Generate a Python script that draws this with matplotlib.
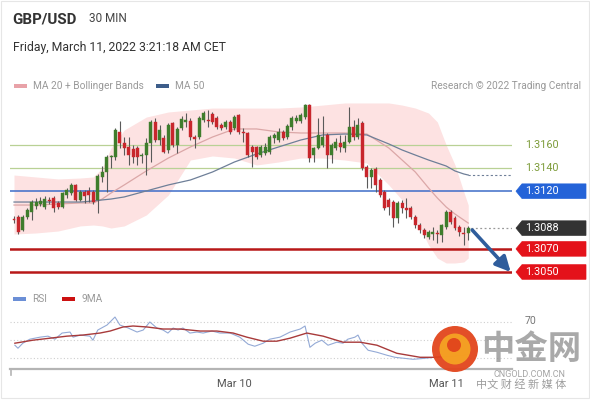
import matplotlib
matplotlib.use("Agg")
import matplotlib.pyplot as plt
from matplotlib.patches import Polygon, Rectangle, Circle
import numpy as np

plt.rcParams['font.family'] = ['Roboto', 'DejaVu Sans']

# ---------------- data ----------------
opens = [1.30959, 1.30976, 1.30864, 1.30976, 1.31020, 1.31072, 1.31089, 1.31063, 1.31124, 1.31141,
         1.31098, 1.31063, 1.31167, 1.31184, 1.31254, 1.31124, 1.31193, 1.31202, 1.31193, 1.31124,
         1.31323, 1.31366, 1.31496, 1.31496, 1.31713, 1.31617, 1.31583, 1.31565, 1.31574, 1.31505,
         1.31513, 1.31617, 1.31799, 1.31643, 1.31661, 1.31557, 1.31791, 1.31600, 1.31747, 1.31799,
         1.31808, 1.31669, 1.31669, 1.31816, 1.31816, 1.31868, 1.31834, 1.31773, 1.31756, 1.31799,
         1.31747, 1.31860, 1.31713, 1.31704, 1.31583, 1.31583, 1.31513, 1.31531, 1.31539, 1.31661,
         1.31643, 1.31713, 1.31669, 1.31756, 1.31808, 1.31808, 1.31842, 1.31946, 1.31513, 1.31574,
         1.31600, 1.31687, 1.31513, 1.31574, 1.31617, 1.31574, 1.31626, 1.31756, 1.31669, 1.31791,
         1.31409, 1.31323, 1.31392, 1.31297, 1.31193, 1.31124, 1.31106, 1.30968, 1.31098, 1.31054,
         1.31054, 1.30976, 1.30907, 1.30864, 1.30803, 1.30829, 1.30838, 1.30821, 1.30890, 1.31020,
         1.30968, 1.30890, 1.30838, 1.30838]
closes = [1.30950, 1.30847, 1.30976, 1.31037, 1.31106, 1.31106, 1.31115, 1.31132, 1.31115, 1.31054,
          1.31063, 1.31184, 1.31210, 1.31254, 1.31124, 1.31193, 1.31158, 1.31167, 1.31106, 1.31332,
          1.31366, 1.31496, 1.31505, 1.31730, 1.31617, 1.31574, 1.31513, 1.31496, 1.31496, 1.31513,
          1.31617, 1.31799, 1.31643, 1.31730, 1.31539, 1.31773, 1.31600, 1.31739, 1.31825, 1.31816,
          1.31669, 1.31652, 1.31834, 1.31877, 1.31812, 1.31799, 1.31756, 1.31747, 1.31799, 1.31713,
          1.31842, 1.31713, 1.31704, 1.31513, 1.31539, 1.31496, 1.31583, 1.31583, 1.31669, 1.31687,
          1.31713, 1.31661, 1.31765, 1.31834, 1.31834, 1.31860, 1.31946, 1.31487, 1.31574, 1.31687,
          1.31669, 1.31513, 1.31600, 1.31626, 1.31583, 1.31626, 1.31756, 1.31669, 1.31773, 1.31401,
          1.31323, 1.31383, 1.31254, 1.31167, 1.31054, 1.31063, 1.30968, 1.31098, 1.31054, 1.31037,
          1.30976, 1.30907, 1.30864, 1.30821, 1.30847, 1.30847, 1.30829, 1.30907, 1.31020, 1.30933,
          1.30881, 1.30847, 1.30829, 1.30881]
highs = [1.30985, 1.30994, 1.30994, 1.31054, 1.31124, 1.31141, 1.31150, 1.31158, 1.31150, 1.31158,
         1.31115, 1.31193, 1.31228, 1.31271, 1.31262, 1.31210, 1.31210, 1.31236, 1.31210, 1.31349,
         1.31418, 1.31513, 1.31513, 1.31747, 1.31808, 1.31669, 1.31669, 1.31600, 1.31591, 1.31531,
         1.31661, 1.31816, 1.31834, 1.31773, 1.31687, 1.31791, 1.31799, 1.31756, 1.31851, 1.31877,
         1.31834, 1.31687, 1.31851, 1.31894, 1.31903, 1.31886, 1.31851, 1.31791, 1.31816, 1.31816,
         1.31860, 1.31868, 1.31747, 1.31713, 1.31600, 1.31591, 1.31600, 1.31617, 1.31687, 1.31704,
         1.31747, 1.31730, 1.31782, 1.31851, 1.31860, 1.31877, 1.31955, 1.31955, 1.31583, 1.31834,
         1.31851, 1.31704, 1.31617, 1.31661, 1.31687, 1.31687, 1.31929, 1.31816, 1.31834, 1.31808,
         1.31427, 1.31401, 1.31409, 1.31314, 1.31210, 1.31141, 1.31124, 1.31115, 1.31124, 1.31141,
         1.31072, 1.30994, 1.30924, 1.30881, 1.30864, 1.30890, 1.30864, 1.30916, 1.31037, 1.31037,
         1.30985, 1.30907, 1.30890, 1.30899]
lows = [1.30924, 1.30829, 1.30855, 1.30959, 1.30950, 1.31046, 1.31072, 1.31046, 1.31089, 1.31020,
        1.31046, 1.31054, 1.31141, 1.31167, 1.31115, 1.31115, 1.31098, 1.31106, 1.31089, 1.31011,
        1.31280, 1.31193, 1.31401, 1.31470, 1.31574, 1.31513, 1.31427, 1.31444, 1.31427, 1.31444,
        1.31340, 1.31453, 1.31626, 1.31600, 1.31531, 1.31531, 1.31583, 1.31531, 1.31730, 1.31756,
        1.31643, 1.31574, 1.31652, 1.31799, 1.31756, 1.31782, 1.31739, 1.31730, 1.31739, 1.31695,
        1.31730, 1.31695, 1.31626, 1.31496, 1.31409, 1.31479, 1.31496, 1.31513, 1.31522, 1.31617,
        1.31626, 1.31643, 1.31652, 1.31730, 1.31791, 1.31791, 1.31825, 1.31453, 1.31453, 1.31565,
        1.31583, 1.31401, 1.31444, 1.31557, 1.31539, 1.31539, 1.31617, 1.31643, 1.31652, 1.31383,
        1.31228, 1.31228, 1.31193, 1.31150, 1.31037, 1.30994, 1.30890, 1.30924, 1.31011, 1.30968,
        1.30959, 1.30881, 1.30838, 1.30795, 1.30786, 1.30777, 1.30751, 1.30760, 1.30873, 1.30916,
        1.30864, 1.30812, 1.30734, 1.30777]

# indicator readings at sampled candle indices
ind_idx = [0, 5, 10, 15, 18, 20, 22, 25, 30, 35, 40, 45, 50, 55, 60, 65, 70, 75, 80, 85,
           88, 91, 94, 96, 98, 100, 102, 103]
bb_upper = [1.31340, 1.31323, 1.31306, 1.31314, 1.31323, 1.31401, 1.31574, 1.31730, 1.31842, 1.31886,
            1.31903, 1.31920, 1.31920, 1.31920, 1.31920, 1.31929, 1.31946, 1.31964, 1.31964, 1.31964,
            1.31946, 1.31920, 1.31877, 1.31799, 1.31600, 1.31427, 1.31193, 1.31080]
bb_lower = [1.30829, 1.30838, 1.30855, 1.30899, 1.30907, 1.30899, 1.30881, 1.30899, 1.30994, 1.31167,
            1.31470, 1.31505, 1.31487, 1.31427, 1.31453, 1.31487, 1.31487, 1.31470, 1.31444, 1.31254,
            1.31124, 1.30968, 1.30734, 1.30621, 1.30578, 1.30578, 1.30587, 1.30621]
ma20 = [1.31080, 1.31080, 1.31089, 1.31098, 1.31098, 1.31132, 1.31184, 1.31254, 1.31375, 1.31487,
        1.31583, 1.31669, 1.31739, 1.31739, 1.31713, 1.31704, 1.31704, 1.31704, 1.31695, 1.31574,
        1.31470, 1.31366, 1.31228, 1.31141, 1.31063, 1.31002, 1.30950, 1.30924]
ma50 = [1.31106, 1.31106, 1.31106, 1.31106, 1.31115, 1.31124, 1.31132, 1.31150, 1.31202, 1.31254,
        1.31297, 1.31366, 1.31453, 1.31522, 1.31583, 1.31643, 1.31687, 1.31695, 1.31687, 1.31609,
        1.31557, 1.31513, 1.31470, 1.31444, 1.31418, 1.31375, 1.31349, 1.31340]

rsi_idx = [0.2, 0.9, 2.0, 3.6, 5.9, 7.7, 9.3, 10.9, 12.7, 13.4, 15.0, 17.2, 17.9, 19.0, 21.1, 22.9,
           24.0, 25.9, 27.9, 29.3, 30.8, 32.4, 33.8, 34.9, 36.1, 37.2, 38.3, 39.9, 41.5, 42.9, 44.9,
           46.7, 49.0, 51.2, 53.1, 54.6, 56.5, 58.0, 60.3, 62.6, 64.9, 66.0, 67.1, 68.3, 69.8, 71.2,
           73.2, 74.6, 75.7, 77.3, 78.0, 78.9, 80.3, 82.3, 84.6, 86.4, 90.5, 93.2, 97.0, 100.0, 103.0]
rsi_val = [44.3, 41.0, 46.5, 50.9, 53.1, 54.2, 50.9, 57.6, 58.7, 53.1, 55.4, 54.2, 49.8, 60.9, 66.4, 75.1,
           66.4, 63.1, 58.7, 60.9, 69.7, 63.1, 60.9, 57.6, 63.1, 60.9, 63.1, 57.6, 58.7, 57.6, 59.8,
           57.6, 57.6, 53.1, 45.4, 43.2, 46.5, 50.9, 53.1, 58.7, 62.0, 65.3, 42.0, 46.5, 49.8, 44.3,
           47.6, 46.5, 50.9, 53.1, 55.4, 46.5, 38.8, 36.6, 33.3, 31.1, 28.9, 30.0, 32.0, 42.0, 38.0]
ma9_idx = [0.2, 4.3, 8.2, 12.0, 15.6, 19.5, 21.8, 24.7, 27.0, 30.2, 33.8, 37.6, 42.2, 46.0, 49.7,
           52.8, 56.5, 59.6, 62.6, 66.4, 70.1, 74.6, 78.5, 82.3, 86.8, 92.1, 95.0, 99.0, 103.0]
ma9_val = [46.5, 49.8, 52.0, 54.2, 55.4, 57.6, 59.8, 64.2, 65.3, 64.2, 62.0, 62.0, 59.8, 59.8, 57.6,
           53.1, 48.7, 48.7, 52.0, 57.6, 54.2, 47.6, 47.6, 44.3, 35.5, 31.1, 31.1, 32.0, 34.0]

levels_green = [1.3160, 1.3140]
level_blue = 1.3120
level_last = 1.3088
levels_red = [1.3070, 1.3050]
target = 1.3050
xlabels = {50: "Mar 10", 98: "Mar 11"}

# ---------------- layout helpers ----------------
W, H = 590, 400
fig = plt.figure(figsize=(5.9, 4.0), dpi=100)
fig.patch.set_facecolor('white')

PX0, PX1 = 10, 512          # plot x extent in pixels
X0, DX = 14, 4.41           # candle 0 position and spacing in pixels
xlim = ((PX0 - X0) / DX, (PX1 - X0) / DX)

def fx(px):
    return px / W

def fy(py):
    return 1 - py / H

# price axes: y pixel 95..280
ax = fig.add_axes([fx(PX0), fy(280), fx(PX1) - fx(PX0), fy(95) - fy(280)])
ppu = 11545.0
ax.set_ylim(1.3160 - (280 - 145) / ppu, 1.3160 + (145 - 95) / ppu)
ax.set_xlim(*xlim)
ax.axis('off')

n = len(opens)

# bollinger band + MAs
ax.fill_between(ind_idx, bb_lower, bb_upper, color='#fde2e2', lw=0, zorder=1)
ax.plot(ind_idx, ma20, color='#dba7a7', lw=0.9, zorder=2)
ax.plot(ind_idx, ma50, color='#6e7f98', lw=0.9, zorder=2)
ax.plot([ind_idx[-1], xlim[1]], [ma50[-1], ma50[-1]], color='#6e7f98', lw=0.8,
        ls=(0, (2, 2)), zorder=2)

# level lines
for lv in levels_green:
    ax.axhline(lv, color='#b9d195', lw=0.9, zorder=1.5)
ax.axhline(level_blue, color='#3d6cc8', lw=1.1, zorder=1.5)
for lv in levels_red:
    ax.axhline(lv, color='#b81818', lw=1.8, zorder=1.5)
ax.plot([n - 0.3, xlim[1]], [level_last, level_last], color='#999999', lw=0.9,
        ls=(0, (1.5, 2)), zorder=1.5)

# candles
up_c, dn_c = '#3f7d2c', '#c8262c'
for i in range(n):
    o, c, h, l = opens[i], closes[i], highs[i], lows[i]
    col = up_c if c >= o else dn_c
    ax.vlines(i, l, h, color='#5a5a5a', lw=0.8, zorder=3)
    bot, top = min(o, c), max(o, c)
    if top - bot < 0.00004:
        top = bot + 0.00004
    ax.add_patch(Rectangle((i - 0.34, bot), 0.68, top - bot, facecolor=col,
                           edgecolor=col, lw=0.3, zorder=4))

# target arrow
ax.annotate('', xy=(xlim[1] - 0.3, target), xytext=(n - 0.1, closes[-1] - 0.00017),
            arrowprops=dict(arrowstyle='-|>,head_length=0.9,head_width=0.45',
                            color='#2f5d9c', lw=2.6, shrinkA=0, shrinkB=0),
            annotation_clip=False, zorder=6)

# RSI axes: y pixel 305..369
rax = fig.add_axes([fx(PX0), fy(369), fx(PX1) - fx(PX0), fy(305) - fy(369)])
rpu = (358.3 - 321.7) / 40.0
rax.set_ylim(30 - (369 - 358.3) / rpu, 70 + (321.7 - 305) / rpu)
rax.set_xlim(*xlim)
for lv in (70, 50, 30):
    rax.axhline(lv, color='#cfcfcf', lw=0.8, ls=(0, (1, 2)), zorder=1)
rax.plot(rsi_idx, rsi_val, color='#94aad6', lw=0.8, zorder=2)
rax.plot(ma9_idx, ma9_val, color='#a83a3a', lw=1.0, zorder=3)
for s in ('top', 'right', 'left'):
    rax.spines[s].set_visible(False)
rax.spines['bottom'].set_color('#b4b4b4')
rax.spines['bottom'].set_linewidth(1.6)
rax.set_yticks([])
rax.set_xticks(list(xlabels.keys()))
rax.set_xticklabels(list(xlabels.values()), fontsize=8, color='#555555')
rax.tick_params(axis='x', length=0, pad=7)
rax.patch.set_alpha(0)

# ---------------- overlay (pixel coordinates) ----------------
ov = fig.add_axes([0, 0, 1, 1], zorder=10)
ov.set_xlim(0, W)
ov.set_ylim(H, 0)
ov.axis('off')
ov.patch.set_alpha(0)

# frame
ov.add_patch(Rectangle((0.5, 0.5), 588.5, 397, fill=False, edgecolor='#e6e6e6', lw=0.8))
# left tick of x axis
ov.plot([11, 11], [369, 375], color='#b4b4b4', lw=1.2)

ov.text(12, 19, 'GBP/USD', fontsize=10.8, fontweight='bold', color='#333333', va='center')
ov.text(89, 18.5, '30 MIN', fontsize=8.5, color='#444444', va='center')
ov.text(13, 48, 'Friday, March 11, 2022 3:21:18 AM CET', fontsize=8.8, color='#333333', va='center')

# legends
ov.add_patch(Rectangle((14, 84), 13, 4, color='#e8a2a8', lw=0))
ov.text(33, 86, 'MA 20 + Bollinger Bands', fontsize=7.3, color='#999999', va='center')
ov.add_patch(Rectangle((156, 84), 13, 4, color='#3d5d8a', lw=0))
ov.text(175, 86, 'MA 50', fontsize=7.3, color='#999999', va='center')
ov.text(581, 86, 'Research \u00a9 2022 Trading Central', fontsize=7.3, color='#999999',
        va='center', ha='right')

ov.add_patch(Rectangle((13, 297), 13, 4, color='#6b8fd6', lw=0))
ov.text(32, 299, 'RSI', fontsize=7.3, color='#999999', va='center')
ov.add_patch(Rectangle((62, 297), 13, 4, color='#cc1111', lw=0))
ov.text(82, 299, '9MA', fontsize=7.3, color='#999999', va='center')

ov.text(530, 321, '70', fontsize=7.5, color='#777777', va='center', ha='center')

def py_of(price):
    return 145 + (1.3160 - price) * ppu

for lv in levels_green:
    ov.text(525, py_of(lv), f'{lv:.4f}', fontsize=7.8, color='#7d9c3a', va='center')

def tag(price, color):
    y = py_of(price)
    pts = [(516, y), (522, y - 7.3), (586, y - 7.3), (586, y + 7.3), (522, y + 7.3)]
    ov.add_patch(Polygon(pts, closed=True, facecolor=color, edgecolor=color, lw=0.5))
    ov.text(525, y + 0.3, f'{price:.4f}', fontsize=7.8, color='white', va='center')

tag(level_blue, '#2463d8')
tag(level_last, '#333333')
for lv in levels_red:
    tag(lv, '#e4121a')

# watermark
ov.add_patch(Circle((455, 349), 23, facecolor='#e2451c', edgecolor='none', alpha=0.95))
ov.add_patch(Circle((455, 349), 15.5, facecolor='#f6a323', edgecolor='none', alpha=0.95))
ov.add_patch(Circle((454, 345), 7, facecolor='#e2451c', edgecolor='none', alpha=0.95))
ov.text(531, 349, '中金网', fontsize=24, fontweight='bold', color='#8c8c8c', alpha=0.75,
        ha='center', va='center', family=['Noto Sans CJK SC', 'DejaVu Sans'])
ov.text(530, 374.5, 'CNGOLD.COM.CN', fontsize=6.5, color='#9a9a9a', alpha=0.9,
        ha='center', va='center')
ov.text(521, 384.5, '中文 财 经 新 媒 体', fontsize=8, color='#8c8c8c', alpha=0.85,
        ha='center', va='center', family=['Noto Sans CJK SC', 'DejaVu Sans'])

fig.savefig('out.png', dpi=100, facecolor='white')
